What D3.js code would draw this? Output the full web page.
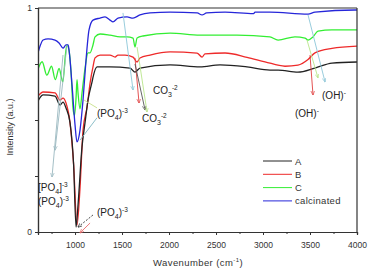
<!DOCTYPE html>
<html><head><meta charset="utf-8">
<script src="https://cdn.jsdelivr.net/npm/d3@7"></script>
<style>body{margin:0;background:#fff}svg{display:block}text{font-family:Arial,"Liberation Sans",sans-serif}</style>
</head><body><div id="chart"></div>
<script>
// ---- data ----
const seriesNames = ["A", "B", "C", "calcinated"];
const seriesColors = ["#222222", "#ee2a2a", "#33ee33", "#2626d9"];

const wnA = [600,660,787,840,872,904,947,985,1011,1032,1074,1106,1138,1181,1191,1234,1372,1585,1638,1691,2011,2330,2543,2830,3074,3160,3372,3553,3734,4000];
const valA = [0.58,0.612,0.607,0.567,0.58,0.554,0.487,0.30,0.022,0.121,0.379,0.487,0.589,0.67,0.69,0.737,0.737,0.732,0.714,0.732,0.746,0.737,0.746,0.737,0.723,0.723,0.714,0.732,0.754,0.759];

const wnB = [600,660,787,840,872,904,947,985,1021,1053,1085,1128,1160,1191,1213,1266,1372,1426,1457,1532,1617,1660,1691,1798,2011,2298,2351,2383,2596,2830,3021,3234,3372,3479,3553,3734,4000];
const valB = [0.603,0.625,0.621,0.589,0.598,0.576,0.487,0.30,0.031,0.196,0.455,0.558,0.665,0.737,0.777,0.79,0.79,0.781,0.79,0.79,0.781,0.759,0.777,0.79,0.804,0.799,0.781,0.795,0.799,0.78,0.76,0.74,0.745,0.77,0.80,0.82,0.83];

const wnC = [600,650,700,750,790,830,870,900,915,936,957,979,994,1011,1021,1032,1053,1074,1106,1138,1160,1191,1213,1266,1372,1479,1553,1617,1638,1660,1723,2011,2330,2723,3074,3160,3340,3447,3479,3532,3585,3734,4000];
const valC = [0.72,0.76,0.70,0.74,0.68,0.73,0.67,0.80,0.835,0.81,0.72,0.55,0.52,0.60,0.68,0.62,0.55,0.62,0.73,0.80,0.80,0.835,0.871,0.884,0.879,0.871,0.871,0.866,0.826,0.866,0.875,0.888,0.879,0.879,0.871,0.857,0.871,0.866,0.857,0.871,0.897,0.902,0.902];

const wnD = [600,628,660,713,787,830,872,904,926,936,968,1000,1021,1053,1085,1117,1149,1191,1266,1319,1372,1404,1457,1553,1617,1691,1798,2011,2300,2351,2400,2596,2900,2915,2940,3074,3479,3553,3979,4000];
const valD = [0.79,0.83,0.857,0.862,0.857,0.844,0.821,0.835,0.835,0.813,0.656,0.478,0.402,0.455,0.589,0.768,0.902,0.946,0.955,0.96,0.946,0.938,0.955,0.96,0.955,0.969,0.978,0.982,0.978,0.969,0.978,0.982,0.975,0.982,0.982,0.982,0.973,0.982,0.991,0.991];

const xTicks = [1000,1500,2000,2500,3000,3500,4000];
const xMinorTicks = [750,1250,1750,2250,2750,3250,3750];
const yTicks = [0,1];
const yMinorTicks = [0.25,0.5,0.75];

// annotations
const labelMain = ["(PO", "[PO", "(PO", "(PO", "CO", "CO", "(OH)", "(OH)"];
const labelSub  = ["4", "4", "4", "4", "3", "3", "", ""];
const labelTail = [")", "]", ")", ")", "", "", "", ""];
const labelSup  = ["-3", "-3", "-3", "-3", "-2", "-2", "-", "-"];
const labelWn   = [1234, 606, 606, 1234, 1830, 1713, 3628, 3340];
const labelVal  = [0.513, 0.185, 0.12, 0.072, 0.617, 0.49, 0.595, 0.515];

// arrows
const arrowWn1  = [1510,1638,1638,1660,3479,3468,3500,915,872,1234,1234,1191,1160];
const arrowV1   = [0.978,0.777,0.75,0.826,0.969,0.857,0.79,0.835,0.79,0.51,0.554,0.076,0.04];
const arrowWn2  = [1617,1681,1745,1766,3660,3585,3532,787,755,1053,1096,1032,1053];
const arrowV2   = [0.634,0.576,0.545,0.536,0.67,0.688,0.612,0.366,0.246,0.41,0.589,0.022,-0.004];
const arrowCol  = ["#8cc6d8","#e04040","#555555","#b9e58a","#8cc6d8","#b9e58a","#e04040","#9ab8c0","#9ab8c0","#7fb7c2","#c8e08a","#333333","#e86a6a"];
const arrowHead = [1,1,1,1,1,1,1,1,1,0,0,1,1];

// ---- layout ----
const W = 371, H = 275;
const m = {left: 38, right: 14, top: 8, bottom: 43};
const svg = d3.select("#chart").append("svg").attr("width", W).attr("height", H);
const x = d3.scaleLinear().domain([606, 4000]).range([m.left, W - m.right]);
const y = d3.scaleLinear().domain([0, 1]).range([H - m.bottom, m.top]);

const defs = svg.append("defs");
arrowCol.forEach((c, i) => {
  defs.append("marker").attr("id", "ah" + i).attr("viewBox", "0 0 10 10")
    .attr("refX", 9).attr("refY", 5).attr("markerWidth", 5).attr("markerHeight", 5)
    .attr("orient", "auto").append("path").attr("d", "M0,1 L10,5 L0,9").attr("fill", "none")
    .attr("stroke", c).attr("stroke-width", 1.5);
});

defs.append("clipPath").attr("id", "clip").append("rect")
  .attr("x", m.left).attr("y", m.top - 2).attr("width", W - m.left - m.right).attr("height", H - m.top - m.bottom + 2);

// series
const wns = [wnA, wnB, wnC, wnD];
const vals = [valA, valB, valC, valD];
const line = d3.line().x(d => x(d[0])).y(d => y(d[1])).curve(d3.curveMonotoneX);
const g = svg.append("g").attr("clip-path", "url(#clip)");
[2, 1, 0, 3].forEach(i => {
  g.append("path").datum(wns[i].map((w, k) => [w, vals[i][k]]))
    .attr("d", line).attr("fill", "none").attr("stroke", seriesColors[i]).attr("stroke-width", 1.3);
});

// axes
const xAxis = svg.append("g").attr("transform", `translate(0,${H - m.bottom})`)
  .call(d3.axisBottom(x).tickValues(xTicks).tickSize(3).tickFormat(d3.format("d")));
svg.append("g").attr("transform", `translate(0,${H - m.bottom})`)
  .call(d3.axisBottom(x).tickValues(xMinorTicks).tickSize(2).tickFormat(""));
svg.append("g").attr("transform", `translate(${m.left},0)`)
  .call(d3.axisLeft(y).tickValues(yTicks).tickSize(3).tickFormat(d3.format("d")));
svg.append("g").attr("transform", `translate(${m.left},0)`)
  .call(d3.axisLeft(y).tickValues(yMinorTicks).tickSize(3).tickFormat(""));
svg.selectAll(".domain").attr("stroke", "#333").attr("stroke-width", 1.2);
svg.selectAll(".tick line").attr("stroke", "#333");
svg.selectAll(".tick text").attr("font-size", 8.5).attr("fill", "#333");
xAxis.selectAll(".tick text").attr("dy", "1.2em");
svg.append("line").attr("x1", m.left).attr("x2", W - m.right).attr("y1", m.top).attr("y2", m.top).attr("stroke", "#333").attr("stroke-width", 1.2);
svg.append("line").attr("x1", W - m.right).attr("x2", W - m.right).attr("y1", m.top).attr("y2", H - m.bottom).attr("stroke", "#333").attr("stroke-width", 1.2);

// axis titles
const xt = svg.append("text").attr("x", 198).attr("y", 266).attr("text-anchor", "middle").attr("font-size", 9.5).attr("fill", "#333").attr("letter-spacing", 0.4);
xt.append("tspan").text("Wavenumber (cm");
xt.append("tspan").attr("dy", -4).attr("font-size", 6).text("-1");
xt.append("tspan").attr("dy", 4).text(")");
svg.append("text").attr("transform", "translate(13,127) rotate(-90)").attr("text-anchor", "middle")
  .attr("font-size", 9).attr("fill", "#333").text("Intensity (a.u.)");

// arrows
arrowWn1.forEach((w, i) => {
  svg.append("line").attr("x1", x(w)).attr("y1", y(arrowV1[i])).attr("x2", x(arrowWn2[i])).attr("y2", y(arrowV2[i]))
    .attr("stroke", arrowCol[i]).attr("stroke-width", 0.9)
    .attr("stroke-dasharray", i === 11 ? "2,1.5" : null)
    .attr("marker-end", arrowHead[i] ? `url(#ah${i})` : null);
});

// labels
labelMain.forEach((t, i) => {
  const tx = svg.append("text").attr("x", x(labelWn[i])).attr("y", y(labelVal[i])).attr("font-size", 10).attr("fill", "#222");
  tx.append("tspan").text(t);
  if (labelSub[i]) tx.append("tspan").attr("dy", 3).attr("font-size", 7).text(labelSub[i]);
  let back = labelSub[i] ? -3 : 0;
  if (labelTail[i]) { tx.append("tspan").attr("dy", back).text(labelTail[i]); back = 0; }
  tx.append("tspan").attr("dy", back - 4).attr("font-size", 6.5).text(labelSup[i]);
});

// legend
const lg = svg.append("g");
seriesNames.forEach((n, i) => {
  const ly = 161 + i * 13.3;
  lg.append("line").attr("x1", 263).attr("x2", 292).attr("y1", ly).attr("y2", ly).attr("stroke", seriesColors[i]).attr("stroke-width", 1);
  lg.append("text").attr("x", 295).attr("y", ly + 3.5).attr("font-size", 9.5).attr("fill", "#333").attr("letter-spacing", 0.3).text(n);
});
</script></body></html>
